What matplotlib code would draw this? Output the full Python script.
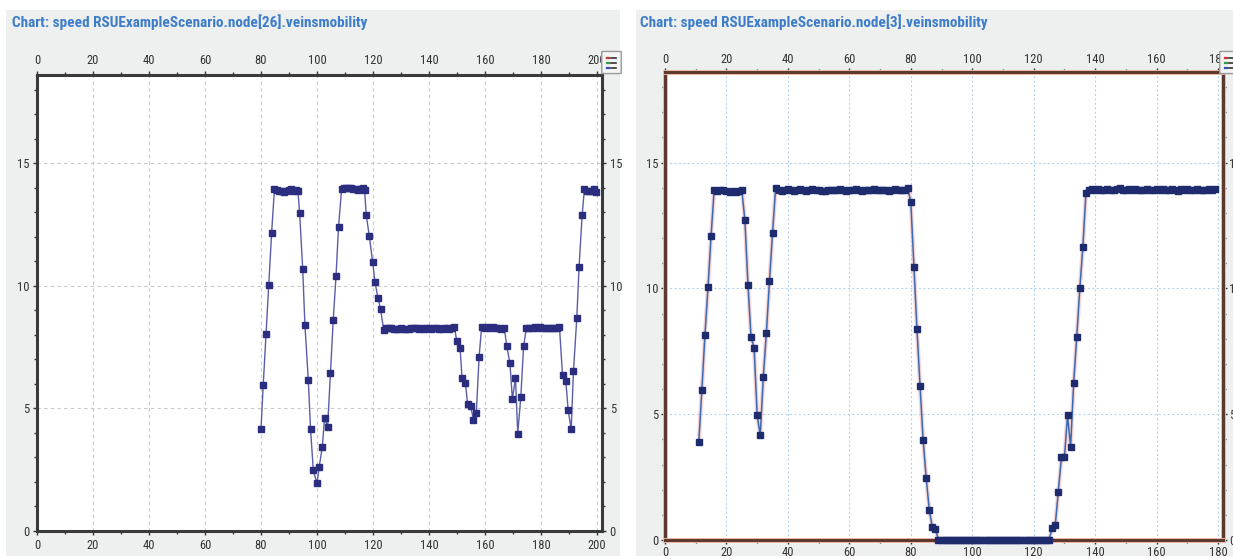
import matplotlib
matplotlib.use("Agg")
import matplotlib.pyplot as plt
from matplotlib.patches import Rectangle, FancyBboxPatch
from matplotlib.lines import Line2D
from matplotlib.ticker import MultipleLocator
import matplotlib.patheffects as pe

# node[26] speed samples
t_node26 = [80.0, 80.8, 81.8, 82.8, 83.8, 84.8, 85.6, 86.4, 87.3, 88.1, 89.0, 89.9, 90.7, 91.6, 92.4, 93.2,
            93.8, 94.9, 95.7, 96.9, 97.7, 98.7, 100.0, 100.8, 101.9, 102.7, 103.8, 104.8, 105.8, 106.8, 107.7,
            108.8, 109.6, 110.5, 111.3, 112.2, 113.0, 113.8, 114.7, 115.5, 116.3, 117.0,
            117.6, 118.7, 119.9, 120.7, 121.8, 122.7, 123.8,
            124.7, 125.6, 126.5, 127.4, 128.3, 129.2, 130.1, 131.0, 131.9, 132.8, 133.7, 134.6, 135.5, 136.4,
            137.3, 138.2, 139.1, 140.0, 140.9, 141.8, 142.7, 143.6, 144.5, 145.4, 146.3, 147.2, 148.1, 149.1,
            149.9, 151.1, 151.8, 153.0, 153.8, 154.9, 155.9, 156.9, 157.9,
            158.8, 159.9, 160.8, 161.8, 162.8, 163.8, 164.8, 165.9, 166.9,
            167.8, 168.9, 169.8, 170.9, 171.7, 172.8, 173.8,
            174.8, 175.7, 176.8, 177.7, 178.7, 179.8, 180.7, 181.6, 182.7, 183.6, 184.6, 185.6, 186.6,
            187.7, 188.9, 189.7, 190.8, 191.6, 192.8, 193.6, 194.7,
            195.5, 196.3, 197.2, 198.1, 198.8, 199.5]
v_node26 = [4.15, 5.96, 8.02, 10.05, 12.16, 13.93, 13.90, 13.88, 13.86, 13.84, 13.87, 13.92, 13.95, 13.86, 13.92, 13.88,
            12.98, 10.69, 8.39, 6.16, 4.15, 2.47, 1.94, 2.62, 3.43, 4.61, 4.24, 6.43, 8.60, 10.40, 12.41,
            13.95, 14.00, 14.00, 14.00, 13.98, 13.96, 13.93, 13.92, 13.96, 14.00, 13.92,
            12.88, 12.02, 10.96, 10.17, 9.49, 9.06, 8.21,
            8.26, 8.28, 8.26, 8.24, 8.22, 8.24, 8.26, 8.23, 8.25, 8.25, 8.27, 8.26, 8.28, 8.24,
            8.26, 8.25, 8.29, 8.27, 8.24, 8.26, 8.28, 8.25, 8.23, 8.26, 8.28, 8.25, 8.27, 8.33,
            7.77, 7.48, 6.25, 6.05, 5.18, 5.10, 4.52, 4.81, 7.09,
            8.33, 8.28, 8.31, 8.28, 8.31, 8.26, 8.28, 8.23, 8.28,
            7.53, 6.86, 5.37, 6.25, 3.97, 5.47, 7.53,
            8.29, 8.26, 8.29, 8.31, 8.28, 8.31, 8.26, 8.28, 8.28, 8.28, 8.26, 8.26, 8.33,
            6.35, 6.10, 4.94, 4.15, 6.51, 8.68, 10.77, 12.87,
            13.93, 13.87, 13.87, 13.88, 13.93, 13.82]

# node[3] speed samples, one per second
t_node3 = [11, 12, 13, 14, 15, 16, 17, 18, 19, 20, 21, 22, 23, 24, 25, 26, 27, 28, 29, 30,
           31, 32, 33, 34, 35, 36, 37, 38, 39, 40, 41, 42, 43, 44, 45, 46, 47, 48, 49, 50,
           51, 52, 53, 54, 55, 56, 57, 58, 59, 60, 61, 62, 63, 64, 65, 66, 67, 68, 69, 70,
           71, 72, 73, 74, 75, 76, 77, 78, 79, 80, 81, 82, 83, 84, 85, 86, 87, 88, 89, 90,
           91, 92, 93, 94, 95, 96, 97, 98, 99, 100, 101, 102, 103, 104, 105, 106, 107, 108, 109, 110,
           111, 112, 113, 114, 115, 116, 117, 118, 119, 120, 121, 122, 123, 124, 125, 126, 127, 128, 129, 130,
           131, 132, 133, 134, 135, 136, 137, 138, 139, 140, 141, 142, 143, 144, 145, 146, 147, 148, 149, 150,
           151, 152, 153, 154, 155, 156, 157, 158, 159, 160, 161, 162, 163, 164, 165, 166, 167, 168, 169, 170,
           171, 172, 173, 174, 175, 176, 177, 178, 179]
v_node3 = [3.91, 5.97, 8.15, 10.05, 12.10, 13.91, 13.87, 13.91, 13.91, 13.87, 13.85, 13.87, 13.85, 13.89, 13.91,
           12.71, 10.15, 8.06, 7.64, 4.96, 4.16, 6.49, 8.24, 10.29, 12.20,
           13.98, 13.90, 13.88, 13.93, 13.96, 13.90, 13.88, 13.91, 13.95, 13.90, 13.89, 13.93, 13.96, 13.92,
           13.91, 13.88, 13.89, 13.93, 13.91, 13.90, 13.93, 13.95, 13.91, 13.89, 13.90, 13.93, 13.96, 13.91,
           13.88, 13.93, 13.92, 13.90, 13.95, 13.92, 13.90, 13.91, 13.93, 13.89, 13.92, 13.96, 13.90, 13.93,
           13.91, 13.98,
           13.42, 10.86, 8.39, 6.14, 3.99, 2.47, 1.21, 0.51, 0.44,
           0.0, 0.0, 0.0, 0.0, 0.0, 0.0, 0.0, 0.0, 0.0, 0.0, 0.0, 0.0, 0.0, 0.0, 0.0, 0.0, 0.0, 0.0, 0.0,
           0.0, 0.0, 0.0, 0.0, 0.0, 0.0, 0.0, 0.0, 0.0, 0.0, 0.0, 0.0, 0.0, 0.0, 0.0, 0.0, 0.0, 0.0,
           0.48, 0.58, 1.92, 3.28, 3.28, 4.96, 3.70, 6.25, 8.06, 10.00, 11.66, 13.81,
           13.90, 13.95, 13.91, 13.95, 13.92, 13.90, 13.96, 13.93, 13.90, 13.95, 13.98, 13.92, 13.90, 13.94,
           13.91, 13.95, 13.93, 13.90, 13.92, 13.95, 13.91, 13.90, 13.94, 13.92, 13.96, 13.90, 13.93, 13.95,
           13.91, 13.89, 13.94, 13.92, 13.95, 13.90, 13.93, 13.96, 13.91, 13.93, 13.90, 13.94, 13.92, 13.96]

titles = ["Chart: speed RSUExampleScenario.node[26].veinsmobility",
          "Chart: speed RSUExampleScenario.node[3].veinsmobility"]

W, H = 1233, 559
FONT = ["Roboto Condensed", "DejaVu Sans"]


def px_rect(left, top, right, bottom):
    """Pixel box -> figure fraction [x, y, w, h]."""
    return [left / W, 1 - bottom / H, (right - left) / W, (bottom - top) / H]


def add_panel_bg(fig, left, right):
    fig.patches.append(Rectangle((left / W, 3 / H), (right - left) / W, 1 - 13 / H,
                                 transform=fig.transFigure, facecolor="#eef0f0",
                                 edgecolor="none", zorder=-5))


def add_legend_icon(fig, x, y):
    # little legend toggle button in the corner
    fig.patches.append(FancyBboxPatch((x / W, 1 - (y + 21) / H), 17 / W, 21 / H,
                                      boxstyle="round,pad=0.001", transform=fig.transFigure,
                                      facecolor="#f4f4f4", edgecolor="#9a9a9a", lw=1, zorder=5))
    for i, c in enumerate(["#d03030", "#30a040", "#3050c0"]):
        yy = 1 - (y + 6 + i * 5) / H
        fig.lines.append(Line2D([(x + 4) / W, (x + 6) / W], [yy, yy], transform=fig.transFigure,
                                color=c, lw=1.6, zorder=6))
        fig.lines.append(Line2D([(x + 8) / W, (x + 13) / W], [yy, yy], transform=fig.transFigure,
                                color="#333333", lw=1.2, zorder=6))


def style_axes(ax, xmax, ymax, spine_color, grid_color, grid_style):
    ax.set_xlim(0, xmax)
    ax.set_ylim(0, ymax)
    ax.xaxis.set_major_locator(MultipleLocator(20))
    ax.xaxis.set_minor_locator(MultipleLocator(10))
    ax.yaxis.set_major_locator(MultipleLocator(5))
    ax.yaxis.set_minor_locator(MultipleLocator(1))
    ax.tick_params(which="both", direction="out", top=True, right=True,
                   labeltop=True, labelright=True, colors="#333333", width=1.0)
    ax.tick_params(which="major", length=3, labelsize=9, pad=2.5)
    ax.tick_params(which="minor", length=2)
    for lab in ax.get_xticklabels() + ax.get_yticklabels():
        lab.set_family(FONT)
    for sp in ax.spines.values():
        sp.set_color(spine_color)
        sp.set_linewidth(2.2)
    ax.grid(True, which="major", color=grid_color, linestyle=grid_style, linewidth=0.8)
    ax.set_axisbelow(True)


fig = plt.figure(figsize=(W / 100, H / 100), dpi=100)
add_panel_bg(fig, 6, 620)
add_panel_bg(fig, 636, 1233)

# left chart: node[26]
ax1 = fig.add_axes(px_rect(37, 75, 602, 531))
style_axes(ax1, 201.8, 18.6, "#3a3a3a", "#c8c8c8", (0, (3, 3)))
ax1.plot(t_node26, v_node26, color="#5a5ea8", lw=1.0, marker="s", markersize=3.8,
         markerfacecolor="#2b2d7e", markeredgecolor="#2b2d7e", zorder=3)
fig.text(12 / W, 1 - 22 / H, titles[0], color="#3d7cc9", fontsize=11, fontweight="bold",
         family=FONT, va="center", ha="left")
add_legend_icon(fig, 603, 52)

# right chart: node[3]
ax2 = fig.add_axes(px_rect(665, 72, 1223, 540))
style_axes(ax2, 181.6, 18.6, "#5c3b2e", "#b8d4ea", (0, (2, 2)))
ax2.tick_params(which="major", pad=1.5)
for sp in ax2.spines.values():
    sp.set_path_effects([pe.withStroke(linewidth=3.5, foreground="#f2b8a4")])
ax2.plot(t_node3, v_node3, color="#f3b6b6", lw=3, alpha=0.6, zorder=2, clip_on=False)
ax2.plot(t_node3, v_node3, color="#3a6ab2", lw=1.1, marker="s", markersize=4.2,
         markerfacecolor="#1e2c6e", markeredgecolor="#1e2c6e", zorder=4, clip_on=False)
fig.text(640 / W, 1 - 22 / H, titles[1], color="#3d7cc9", fontsize=11, fontweight="bold",
         family=FONT, va="center", ha="left")
add_legend_icon(fig, 1221, 52)

fig.savefig("out.png", dpi=100)
